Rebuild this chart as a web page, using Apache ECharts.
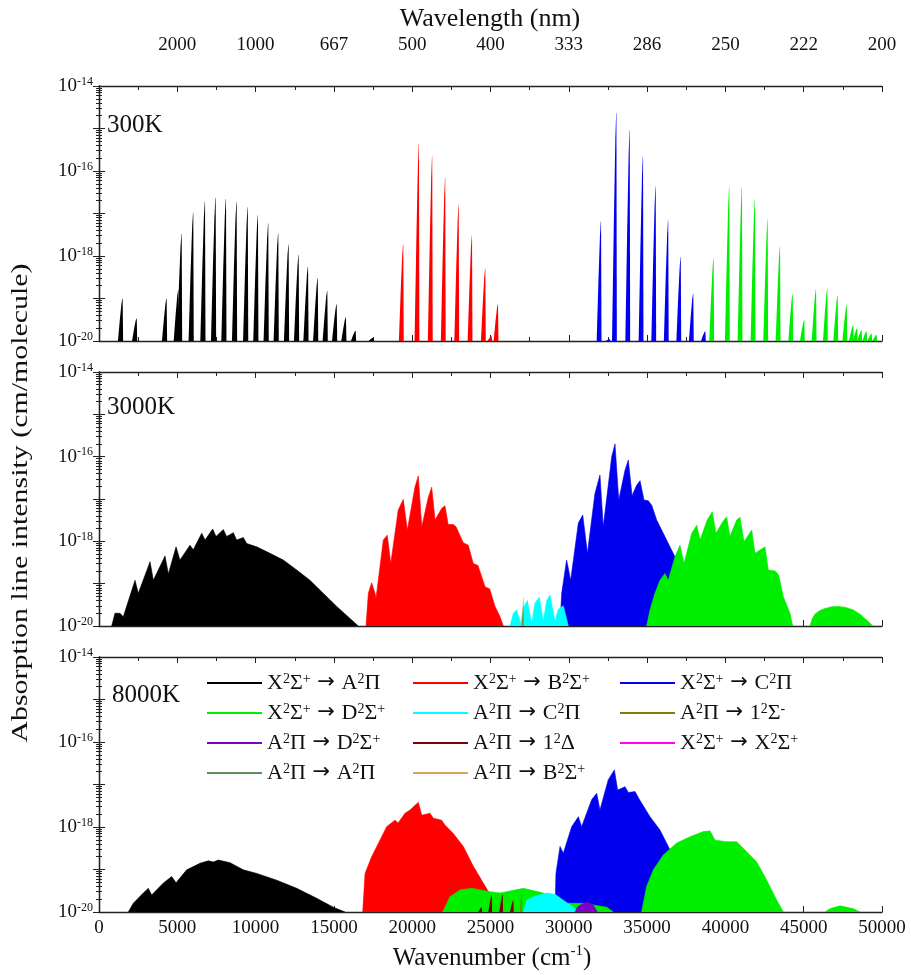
<!DOCTYPE html>
<html>
<head>
<meta charset="utf-8">
<script src="https://cdn.jsdelivr.net/npm/echarts@6/dist/echarts.min.js"></script>
<style>
  html, body { margin: 0; padding: 0; background: #fff; }
  #chart { width: 911px; height: 975px; }
</style>
</head>
<body>
<div id="chart"></div>
<script>
// ---------- data (wavenumber cm-1, intensity cm/molecule) ----------
const transitionNames = [
  'X^2Σ^+ → A^2Π', 'X^2Σ^+ → B^2Σ^+', 'X^2Σ^+ → C^2Π',
  'X^2Σ^+ → D^2Σ^+', 'A^2Π → C^2Π', 'A^2Π → 1^2Σ^-',
  'A^2Π → D^2Σ^+', 'A^2Π → 1^2Δ', 'X^2Σ^+ → X^2Σ^+',
  'A^2Π → A^2Π', 'A^2Π → B^2Σ^+'
];
const panelLabels = ['300K', '3000K', '8000K'];
const wavelengthLabels = ['2000', '1000', '667', '500', '400', '333', '286', '250', '222', '200'];

// 300 K : band heads
const spikes300XA = [[1510,1.0e-19],[2410,3.4e-20],[4320,1.0e-19],[5070,1.6e-19],[5280,3.3e-18],[6020,1.05e-17],[6770,1.9e-17],[7450,2.35e-17],[8110,2.2e-17],[8790,1.9e-17],[9500,1.4e-17],[10150,9.1e-18],[10810,5.8e-18],[11450,3.4e-18],[12110,1.9e-18],[12750,1.05e-18],[13350,5.6e-19],[13970,3.0e-19],[14580,1.5e-19],[15180,7.3e-20],[15770,3.6e-20],[16390,1.75e-20],[17520,1.2e-20]];
const spikes300XB = [[19430,1.9e-18],[20430,4.3e-16],[21280,2.2e-16],[22110,6.9e-17],[22970,1.6e-17],[23820,3.0e-18],[24670,5.1e-19],[25080,1.3e-20],[25480,7.4e-20]];
const spikes300XC = [[32060,6.5e-18],[32630,1.1e-20],[33040,2.3e-15],[33890,9.1e-16],[34740,2.2e-16],[35550,4.3e-17],[36350,6.8e-18],[37150,9.5e-19],[37950,1.3e-19],[38720,1.7e-20]];
const spikes300XD = [[39250,9.1e-19],[40250,4.4e-17],[41060,4.2e-17],[41890,2.2e-17],[42700,7.3e-18],[43490,1.7e-18],[44300,1.3e-19],[45040,3.1e-20],[45790,1.65e-19],[46510,1.7e-19],[47170,1.2e-19],[47750,7.1e-20],[48170,2.4e-20],[48420,2.0e-20],[48700,1.8e-20],[49020,1.7e-20],[49340,1.5e-20],[49660,1.4e-20]];

// 3000 K : envelopes
const env3000XA = [[810,1e-20],[1020,2e-20],[1340,2e-20],[1550,1.65e-20],[1650,1.6e-20],[2300,1.2e-19],[2510,5.9e-20],[3260,3.3e-19],[3470,1.2e-19],[4215,4.5e-19],[4430,1.7e-19],[4920,7.4e-19],[5170,3.6e-19],[5810,8.1e-19],[6020,6.3e-19],[6560,1.55e-18],[6770,1.07e-18],[7260,1.95e-18],[7470,1.3e-18],[7940,1.9e-18],[8150,1.3e-18],[8580,1.6e-18],[8790,1.07e-18],[9215,1.23e-18],[9430,8.9e-19],[10070,7.4e-19],[10920,5.2e-19],[11770,3.6e-19],[12625,2.1e-19],[13470,1.2e-19],[14320,5.9e-20],[15180,2.9e-20],[16030,1.5e-20],[16560,1e-20]];
const env3000XB = [[17050,1e-20],[17200,5.9e-20],[17410,1.05e-19],[17625,5.9e-20],[17690,4.5e-20],[18155,1.07e-18],[18410,1.4e-18],[18630,3.0e-19],[19110,5.5e-18],[19430,9.8e-18],[19690,1.85e-18],[20180,1.95e-17],[20390,3.5e-17],[20610,2.2e-18],[21030,1.1e-17],[21245,1.9e-17],[21460,3.2e-18],[21880,6.0e-18],[22090,6.9e-18],[22300,2.5e-18],[22625,2.5e-18],[22800,2.2e-18],[23260,9.3e-19],[23580,8.1e-19],[23900,3.0e-19],[24200,2.7e-19],[24650,8.5e-20],[24950,7.5e-20],[25290,2.9e-20],[25610,1.65e-20],[25820,1e-20]];
const env3000AC = [[26245,1e-20],[26460,2e-20],[26670,2.4e-20],[26930,1.15e-20],[27140,2.9e-20],[27350,4e-20],[27630,1.15e-20],[27840,3.5e-20],[28120,4.8e-20],[28370,1.3e-20],[28590,4e-20],[28800,5.4e-20],[29120,1.3e-20],[29330,2.5e-20],[29650,3e-20],[29970,1e-20]];
const spikes3000A1S = [[27100,4.9e-20]];
const env3000XC = [[29440,1e-20],[29545,5.9e-20],[29860,3.6e-19],[30120,1.2e-19],[30610,2.7e-18],[30890,4.2e-18],[31190,5.2e-19],[31670,1.35e-17],[31990,3.7e-17],[32200,2.2e-18],[32740,1e-16],[32950,2e-16],[33190,9.5e-18],[33590,4.8e-17],[33800,8.3e-17],[34040,1.2e-17],[34330,2.1e-17],[34550,2.7e-17],[34800,9.5e-18],[35080,9.1e-18],[35300,7e-18],[35610,3.2e-18],[36035,1.55e-18],[36460,7.4e-19],[36780,4.3e-19],[37210,1.45e-19],[37740,4e-20],[38170,1e-20]];
const env3000XD = [[34970,1e-20],[35185,2.4e-20],[35500,5.9e-20],[35820,1.2e-19],[36140,1.75e-19],[36350,1.2e-19],[36780,4.3e-19],[37100,8.1e-19],[37360,3e-19],[37850,1.55e-18],[38170,2.4e-18],[38380,1.07e-18],[38840,3.2e-18],[39160,5e-18],[39400,1.55e-18],[39830,2.9e-18],[40080,3.8e-18],[40290,1.3e-18],[40720,3.2e-18],[40930,3.7e-18],[41190,9.8e-19],[41680,1.85e-18],[41890,5.2e-19],[42530,7.4e-19],[42740,2.1e-19],[43170,2e-19],[43400,1.6e-19],[43700,4.9e-20],[44125,2e-20],[44300,1e-20]];
const env3000XDuv = [[45400,1e-20],[45550,1.5e-20],[45720,1.9e-20],[46000,2.3e-20],[46360,2.6e-20],[46800,2.85e-20],[47210,2.9e-20],[47700,2.75e-20],[48170,2.4e-20],[48600,1.9e-20],[48910,1.5e-20],[49200,1.2e-20],[49410,1e-20]];

// 8000 K : envelopes
const env8000XA = [[1870,1e-20],[2190,1.6e-20],[2830,2.8e-20],[3150,3.6e-20],[3360,2.5e-20],[4110,4.8e-20],[4640,6.8e-20],[4920,4.9e-20],[5600,9.8e-20],[6450,1.4e-19],[6980,1.6e-19],[7300,1.5e-19],[7620,1.67e-19],[8365,1.45e-19],[9215,9.8e-20],[10070,8.1e-20],[11350,5.6e-20],[12625,3.6e-20],[13900,2.1e-20],[14960,1.3e-20],[15710,1e-20]];
const env8000XB = [[16840,1e-20],[16990,8.1e-20],[17410,2e-19],[17940,4.9e-19],[18370,1.02e-18],[18900,1.45e-18],[19100,1.25e-18],[19540,2.1e-18],[19860,2.5e-18],[20390,3.8e-18],[20610,1.9e-18],[21140,2.1e-18],[21350,1.6e-18],[21880,1.45e-18],[22100,1.1e-18],[22625,7e-19],[23260,3.5e-19],[23900,1.2e-19],[24540,4.8e-20],[25000,2.5e-20],[25300,1e-20]];
const env8000XC = [[29120,1e-20],[29180,8.1e-20],[29440,3.5e-19],[29650,2.4e-19],[30185,1.02e-18],[30610,1.75e-18],[30820,1.02e-18],[31460,4.4e-18],[31780,6.2e-18],[31990,2.5e-18],[32520,1.3e-17],[32910,2.2e-17],[33120,7.4e-18],[33590,8.9e-18],[33800,6.5e-18],[34230,6.8e-18],[34500,4.5e-18],[35185,1.75e-18],[35820,8.5e-19],[36460,2.9e-19],[37000,1.2e-19],[37530,2.8e-20],[37950,1e-20]];
const env8000XDlow = [[21950,1e-20],[22410,2.3e-20],[23050,3.3e-20],[23800,3.6e-20],[24970,3e-20],[25610,2.8e-20],[27100,3.6e-20],[28370,2.8e-20],[29440,1.6e-20],[30930,1.6e-20],[32420,1.3e-20],[32840,1e-20]];
const env8000XD = [[34650,1e-20],[34970,4e-20],[35400,9.8e-20],[36035,2.2e-19],[36890,4.2e-19],[37740,5.9e-19],[38590,7.8e-19],[39020,8.1e-19],[39340,4.9e-19],[40080,4.5e-19],[40720,4.5e-19],[41360,2.6e-19],[42000,1.5e-19],[42640,5.6e-20],[43280,1.9e-20],[43700,1e-20]];
const env8000XDuv = [[46360,1e-20],[46680,1.2e-20],[47320,1.4e-20],[48170,1.2e-20],[48600,1e-20]];
const env8000AC = [[27100,1e-20],[27310,1.9e-20],[27740,2.3e-20],[28590,2.8e-20],[29120,2.6e-20],[29650,1.9e-20],[30290,1.3e-20],[30610,1e-20]];
const env8000AD = [[30400,1e-20],[30550,1.3e-20],[30720,1.45e-20],[31100,1.7e-20],[31350,1.62e-20],[31570,1.45e-20],[31820,1e-20]];
const spikes8000A1D = [[24440,1.3e-20],[25080,2.5e-20],[25780,2.6e-20],[26460,1.9e-20]];
const spikes8000A1S = [[26990,2.8e-20]];

// ---------- style ----------
const colors = ['#000000', '#ff0000', '#0000ee', '#00ee00', '#00ffff', '#808000',
                '#8000c8', '#800000', '#ff00ff', '#5f8f5f', '#d4a55a'];
const serif = '"Liberation Serif", "Times New Roman", serif';
const axisColor = '#222';
const FLOOR = 1e-20;

// 'X^2Σ^+ → A^2Π'  ->  rich text with superscripts and a wide arrow
function richSide(str) {
  var parts = str.split(/\^(.)/), out = '';
  for (var i = 0; i < parts.length; i++) {
    if (!parts[i]) continue;
    out += (i % 2 ? '{s|' : '{b|') + parts[i] + '}';
  }
  return out;
}
function richSup(str) {
  return str.split(' → ').map(richSide).join('{a| → }');
}

var grids = [
  { left: 99, top: 86, width: 783, height: 255 },
  { left: 99, top: 372, width: 783, height: 254 },
  { left: 99, top: 657, width: 783, height: 255 }
];

var xAxes = [], yAxes = [];
grids.forEach(function (g, i) {
  var common = {
    type: 'value', gridIndex: i, min: 0, max: 50000, interval: 5000,
    axisLine: { show: true, onZero: false, lineStyle: { color: axisColor, width: 1.3 } },
    axisTick: { show: true, inside: true, length: 6, lineStyle: { color: axisColor } },
    minorTick: { show: true, splitNumber: 2, length: 4, lineStyle: { color: axisColor } },
    splitLine: { show: false }
  };
  xAxes.push(Object.assign({}, common, {
    position: 'bottom',
    axisLabel: { show: i === 2, fontFamily: serif, fontSize: 19, color: '#111', margin: 7,
      formatter: function (v) { return String(v); } }
  }));
  xAxes.push(Object.assign({}, common, {
    position: 'top',
    axisLabel: { show: i === 0, fontFamily: serif, fontSize: 19, color: '#111', margin: 31,
      formatter: function (v) { var k = Math.round(v / 5000) - 1; return k >= 0 ? wavelengthLabels[k] : ''; } }
  }));
  var ycommon = {
    type: 'log', logBase: 10, gridIndex: i, min: 1e-20, max: 1e-14, splitNumber: 6,
    axisLine: { show: true, lineStyle: { color: axisColor, width: 1.3 } },
    axisTick: { show: true, inside: true, length: 6, lineStyle: { color: axisColor } },
    minorTick: { show: true, splitNumber: 9, length: 3, lineStyle: { color: axisColor } },
    splitLine: { show: false }
  };
  yAxes.push(Object.assign({}, ycommon, {
    position: 'left',
    axisLabel: {
      show: true, margin: 6, color: '#111',
      formatter: function (v) {
        var e = Math.round(Math.log10(v));
        return e % 2 === 0 ? '{b|10}{s|' + e + '}' : '';
      },
      rich: {
        b: { fontFamily: serif, fontSize: 19, lineHeight: 21, color: '#111' },
        s: { fontFamily: serif, fontSize: 12, lineHeight: 12, verticalAlign: 'top', color: '#111' }
      }
    }
  }));
  yAxes.push(Object.assign({}, ycommon, { position: 'right', axisLabel: { show: false } }));
});

// band head drawn as a thin sliver: sloped low-wavenumber side, steep head
function spikeRender(baseW) {
  return function (params, api) {
    var v = api.value(0), p = api.value(1);
    var l0 = Math.log10(FLOOR), lp = Math.log10(p);
    var at = function (f) { return Math.pow(10, l0 + (lp - l0) * f); };
    var pts = [
      api.coord([v - baseW, FLOOR]),
      api.coord([v - baseW * 0.6, at(0.5)]),
      api.coord([v - baseW * 0.25, at(0.88)]),
      api.coord([v - baseW * 0.06, p]),
      api.coord([v, p]),
      api.coord([v + baseW * 0.1, FLOOR])
    ];
    return { type: 'polygon', shape: { points: pts }, style: { fill: api.visual('color') } };
  };
}

var zOrder = 2;
function spikes(idx, data, panel, w) {
  return {
    type: 'custom', name: transitionNames[idx], color: colors[idx],
    xAxisIndex: panel * 2, yAxisIndex: panel * 2,
    renderItem: spikeRender(w), data: data, clip: true,
    encode: { x: 0, y: 1 }, animation: false, z: zOrder++
  };
}

function env(idx, data, panel) {
  return {
    type: 'line', name: transitionNames[idx], color: colors[idx],
    xAxisIndex: panel * 2, yAxisIndex: panel * 2,
    data: data, symbol: 'none', showSymbol: false,
    lineStyle: { width: 0.6, color: colors[idx] },
    areaStyle: { origin: 'start', color: colors[idx], opacity: 1 },
    animation: false, z: zOrder++
  };
}

var series = [
  spikes(0, spikes300XA, 0, 300),
  spikes(1, spikes300XB, 0, 280),
  spikes(2, spikes300XC, 0, 280),
  spikes(3, spikes300XD, 0, 280),

  env(0, env3000XA, 1),
  env(1, env3000XB, 1),
  env(2, env3000XC, 1),
  env(3, env3000XD, 1),
  env(3, env3000XDuv, 1),
  env(4, env3000AC, 1),
  spikes(5, spikes3000A1S, 1, 90),

  env(0, env8000XA, 2),
  env(1, env8000XB, 2),
  env(2, env8000XC, 2),
  env(3, env8000XDlow, 2),
  env(3, env8000XD, 2),
  env(3, env8000XDuv, 2),
  env(4, env8000AC, 2),
  spikes(7, spikes8000A1D, 2, 220),
  spikes(5, spikes8000A1S, 2, 110),
  env(6, env8000AD, 2),
  env(8, [], 2),
  env(9, [], 2),
  env(10, [], 2)
];

var legendRich = {
  b: { fontFamily: serif, fontSize: 22, lineHeight: 22, color: '#111' },
  a: { fontFamily: '"DejaVu Sans", sans-serif', fontSize: 21, lineHeight: 22, color: '#111' },
  s: { fontFamily: serif, fontSize: 14, lineHeight: 13, verticalAlign: 'top', color: '#111' }
};
function legendCol(left, idxs) {
  return {
    orient: 'vertical', left: left, top: 672, itemWidth: 55, itemHeight: 2, itemGap: 8,
    icon: 'rect', selectedMode: false, padding: 0, z: 50,
    data: idxs.map(function (k) { return transitionNames[k]; }),
    formatter: function (name) { return richSup(name); },
    textStyle: { rich: legendRich }
  };
}

var titleRich = {
  b: { fontFamily: serif, fontSize: 25, lineHeight: 28, fill: '#111' },
  s: { fontFamily: serif, fontSize: 15, lineHeight: 15, verticalAlign: 'top', fill: '#111' }
};

var graphics = [
  { type: 'text', x: 490, y: 19, style: { text: 'Wavelength (nm)', font: '26px ' + serif, fill: '#111', textAlign: 'center', textVerticalAlign: 'middle' } },
  { type: 'text', x: 492, y: 958, style: { text: '{b|Wavenumber (cm}{s|-1}{b|)}', rich: titleRich, textAlign: 'center', textVerticalAlign: 'middle' } },
  { type: 'text', x: 21, y: 503, rotation: Math.PI / 2, scaleX: 1.3,
    style: { text: 'Absorption line intensity (cm/molecule)', font: '23px ' + serif, fill: '#111', textAlign: 'center', textVerticalAlign: 'middle' } }
];
var labelPos = [[107, 125], [107, 407], [112, 695]];
panelLabels.forEach(function (t, i) {
  graphics.push({ type: 'text', x: labelPos[i][0], y: labelPos[i][1], z: 60,
    style: { text: t, font: '25px ' + serif, fill: '#111', textVerticalAlign: 'middle' } });
});

var chart = echarts.init(document.getElementById('chart'), null, { renderer: 'canvas' });
chart.setOption({
  backgroundColor: '#fff',
  animation: false,
  grid: grids,
  xAxis: xAxes,
  yAxis: yAxes,
  legend: [legendCol(207, [0, 3, 6, 9]), legendCol(413, [1, 4, 7, 10]), legendCol(620, [2, 5, 8])],
  graphic: graphics,
  series: series
});
</script>
</body>
</html>
